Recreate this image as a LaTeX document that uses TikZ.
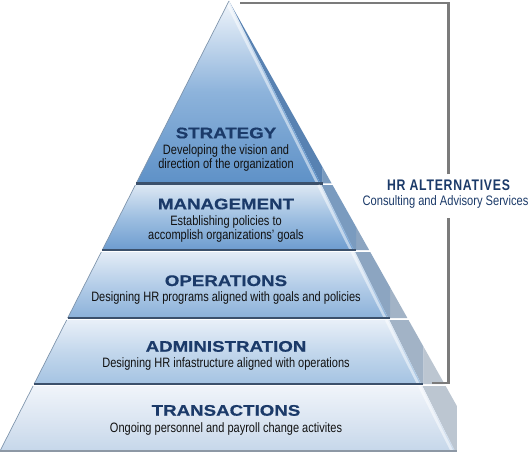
\documentclass[tikz,border=0pt]{standalone}
\usepackage{fontspec}
\setmainfont{Liberation Sans}
\newfontfamily\titlefont[FakeStretch=1.22,FakeBold=0.6]{Liberation Sans Bold}
\newfontfamily\descfont[FakeStretch=0.81]{Liberation Sans}
\newfontfamily\altfont[FakeStretch=0.8,LetterSpace=4.8]{Liberation Sans Bold}
\usepackage{tikz}
\usetikzlibrary{positioning}

\definecolor{navy}{HTML}{1B3A69}
\definecolor{desctext}{HTML}{111111}
\definecolor{sepline}{HTML}{3B506B}
\definecolor{basegray}{HTML}{8D98A5}
\definecolor{edgeline}{HTML}{7D93AB}
\definecolor{bracketgray}{HTML}{7B7B7B}
\definecolor{stratTop}{HTML}{F0F5FB}
\definecolor{stratMid}{HTML}{8DB3DB}
\definecolor{stratBot}{HTML}{5E91C7}
\definecolor{stratSide}{HTML}{5882B2}
\definecolor{mgmtTop}{HTML}{DCE7F3}
\definecolor{mgmtMid}{HTML}{9EBFE1}
\definecolor{mgmtBot}{HTML}{6D9CCF}
\definecolor{mgmtSide}{HTML}{7A9BBF}
\definecolor{opsTop}{HTML}{E3ECF6}
\definecolor{opsMid}{HTML}{B4CDE8}
\definecolor{opsBot}{HTML}{8BB1D9}
\definecolor{opsSide}{HTML}{8CA5C1}
\definecolor{adminTop}{HTML}{E8EFF8}
\definecolor{adminMid}{HTML}{C3D7EC}
\definecolor{adminBot}{HTML}{A4C3E2}
\definecolor{adminSide}{HTML}{A2B3C6}
\definecolor{transTop}{HTML}{F0F4FA}
\definecolor{transMid}{HTML}{DCE6F2}
\definecolor{transBot}{HTML}{C6D7EA}
\definecolor{transSide}{HTML}{BCC6D1}

\begin{document}
\begin{tikzpicture}[
    x=0.75pt, y=-0.75pt,
    layer title/.style = {
      anchor=base,
      inner sep=0pt,
      text=navy,
      font=\titlefont\fontsize{11.5}{12}\selectfont
    },
    layer text/.style = {
      anchor=base,
      inner sep=0pt,
      text=desctext,
      font=\descfont\fontsize{10.2}{11}\selectfont
    },
    bevel/.style = {draw=white, opacity=.5, line width=2pt},
    edge/.style = {draw=edgeline, line width=.5pt},
    bracket/.style = {draw=bracketgray, line width=1.9pt}
  ]
    \useasboundingbox[fill=white] (0,0) rectangle (530,453);

    % Pyramid layers, top to bottom
    \foreach \yt/\yb/\lay/\under/\sep in {
        1/183.3/strat/mgmtSide/sepline,
        185/250/mgmt/opsSide/sepline,
        252/318/ops/adminSide/sepline,
        320/384/admin/transSide/sepline,
        386/451/trans/white/basegray} {
      \pgfmathsetmacro\xlt{229-0.5089*(\yt-1)}
      \pgfmathsetmacro\xlb{229-0.5089*(\yb-1)}
      \pgfmathsetmacro\xrt{229+0.502*(\yt-1)}
      \pgfmathsetmacro\xrb{229+0.502*(\yb-1)}
      \pgfmathsetmacro\xot{229+0.5627*(\yt-1)}
      \pgfmathsetmacro\xob{229+0.5627*(\yb-1)}
      \pgfmathsetmacro\xv{\xrb+2}
      \pgfmathsetmacro\yv{1+(\xv-229)/0.5627}
      % side face
      \fill[\under] (\xv,\yv) -- (\xob,\yb) -- (\xv,\yb) -- cycle;
      \fill[\lay Side] (\xrt,\yt) -- (\xot,\yt) -- (\xv,\yv)
        -- (\xv,\yb) -- (\xrb,\yb) -- cycle;
      % front face
      \shade[top color=\lay Top, bottom color=\lay Bot, middle color=\lay Mid]
        (\xlt,\yt) -- (\xrt,\yt) -- (\xrb,\yb) -- (\xlb,\yb) -- cycle;
      \draw[bevel] (\xrt-3,\yt) -- (\xrb-3,\yb);
      \draw[edge] (\xlt,\yt) -- (\xlb,\yb);
      \draw[draw=\sep, line width=2.2pt] (\xlb,\yb) -- (\xv,\yb);
    }

    % Layer labels
    \node[layer title] (strategy) at (226,138.3) {STRATEGY};
    \node[layer text] (strategy a) at (226,154.7) {Developing the vision and};
    \node[layer text] (strategy b) at (226,168.7) {direction of the organization};

    \node[layer title] (management) at (226,209.3) {MANAGEMENT};
    \node[layer text] (management a) at (226,225.3) {Establishing policies to};
    \node[layer text] (management b) at (226,239.3) {accomplish organizations’ goals};

    \node[layer title] (operations) at (226,286) {OPERATIONS};
    \node[layer text] (operations a) at (226,301.5) {Designing HR programs aligned with goals and policies};

    \node[layer title] (administration) at (226,351.7) {ADMINISTRATION};
    \node[layer text] (administration a) at (226,367.7) {Designing HR infastructure aligned with operations};

    \node[layer title] (transactions) at (226,415.7) {TRANSACTIONS};
    \node[layer text] (transactions a) at (226,432) {Ongoing personnel and payroll change activites};

    % Bracket with label
    \node[anchor=base, inner sep=0pt, text=navy,
      font=\altfont\fontsize{11.5}{12}\selectfont] (alternatives) at (448.5,190) {HR ALTERNATIVES};
    \node[anchor=base, inner sep=0pt, text=navy,
      font=\descfont\fontsize{10.3}{11}\selectfont] (consulting) at (445.5,205) {Consulting and Advisory Services};
    \coordinate (apex end) at (240,3);
    \coordinate (admin end) at (432,383);
    \draw[bracket] (alternatives.north) ++(0,-5) |- (apex end);
    \draw[bracket] (alternatives.north |- consulting.south) ++(0,10) |- (admin end);
  \end{tikzpicture}
\end{document}
